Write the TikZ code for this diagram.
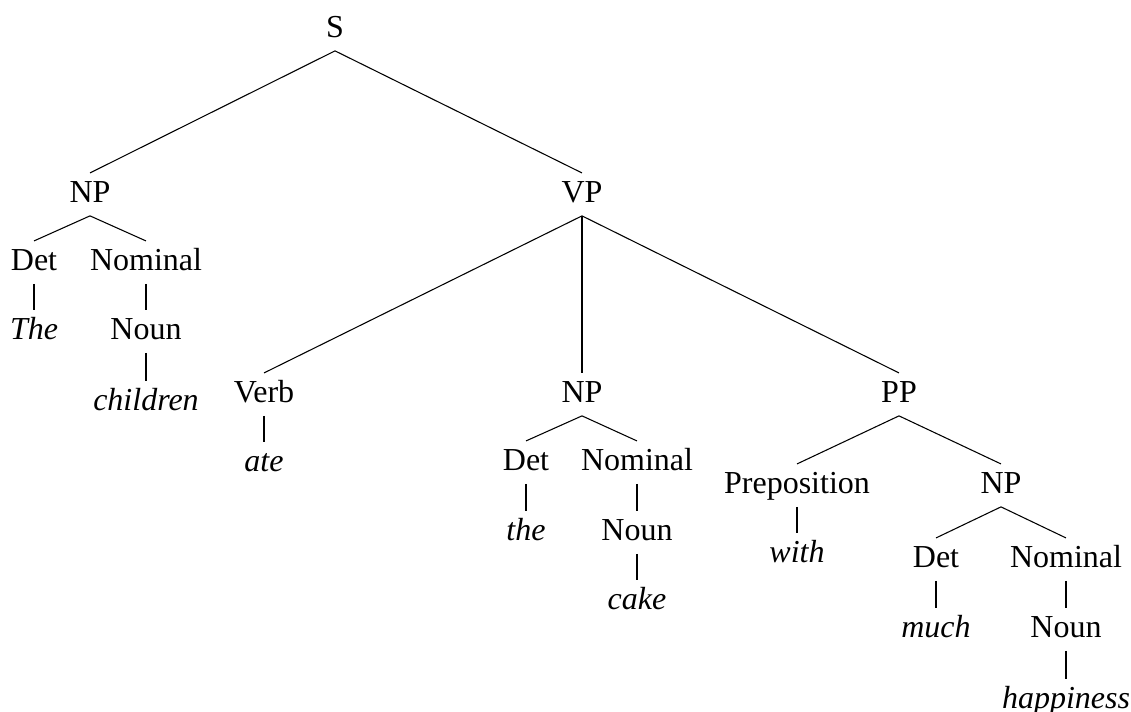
\documentclass[tikz,border=0pt]{standalone}
\usepackage{fontspec}
\setmainfont{Liberation Serif}

\begin{document}
\begin{tikzpicture}[x=0.375pt, y=-0.375pt,
    cat/.style={anchor=base, inner xsep=0pt, inner ysep=2pt, text height=8.7pt, text depth=3pt, font=\fontsize{12}{14}\selectfont},
    word/.style={cat, font=\fontsize{12}{14}\selectfont\itshape}]
            \useasboundingbox (0, 0) rectangle (1131, 711);
            \node[cat] (S) at (335, 37) {S};
            \node[cat] (np1) at (90, 202) {NP};
            \node[cat] (vp) at (582, 202) {VP};
            \node[cat] (det1) at (34, 270) {Det};
            \node[cat] (nom1) at (146, 270) {Nominal};
            \node[word] (the1) at (34, 339) {The};
            \node[cat] (noun1) at (146, 339) {Noun};
            \node[word] (children) at (146, 410) {children};
            \node[cat] (verb) at (264, 402) {Verb};
            \node[word] (ate) at (264, 471) {ate};
            \node[cat] (np2) at (582, 402) {NP};
            \node[cat] (det2) at (526, 470) {Det};
            \node[cat] (nom2) at (637, 470) {Nominal};
            \node[word] (the2) at (526, 540) {the};
            \node[cat] (noun2) at (637, 540) {Noun};
            \node[word] (cake) at (637, 609) {cake};
            \node[cat] (pp) at (899, 402) {PP};
            \node[cat] (prep) at (797, 493) {Preposition};
            \node[word] (with) at (797, 562) {with};
            \node[cat] (np3) at (1001, 493) {NP};
            \node[cat] (det3) at (936, 567) {Det};
            \node[cat] (nom3) at (1066, 567) {Nominal};
            \node[word] (much) at (936, 637) {much};
            \node[cat] (noun3) at (1066, 637) {Noun};
            \node[word] (happiness) at (1066, 708) {happiness};
            \draw (S.south) -- (np1.north);
            \draw (S.south) -- (vp.north);
            \draw (np1.south) -- (det1.north);
            \draw (np1.south) -- (nom1.north);
            \draw (det1.south) -- (the1.north);
            \draw (nom1.south) -- (noun1.north);
            \draw (noun1.south) -- (children.north);
            \draw (vp.south) -- (verb.north);
            \draw (vp.south) -- (np2.north);
            \draw (vp.south) -- (pp.north);
            \draw (verb.south) -- (ate.north);
            \draw (np2.south) -- (det2.north);
            \draw (np2.south) -- (nom2.north);
            \draw (det2.south) -- (the2.north);
            \draw (nom2.south) -- (noun2.north);
            \draw (noun2.south) -- (cake.north);
            \draw (pp.south) -- (prep.north);
            \draw (pp.south) -- (np3.north);
            \draw (prep.south) -- (with.north);
            \draw (np3.south) -- (det3.north);
            \draw (np3.south) -- (nom3.north);
            \draw (det3.south) -- (much.north);
            \draw (nom3.south) -- (noun3.north);
            \draw (noun3.south) -- (happiness.north);
        \end{tikzpicture}
\end{document}
